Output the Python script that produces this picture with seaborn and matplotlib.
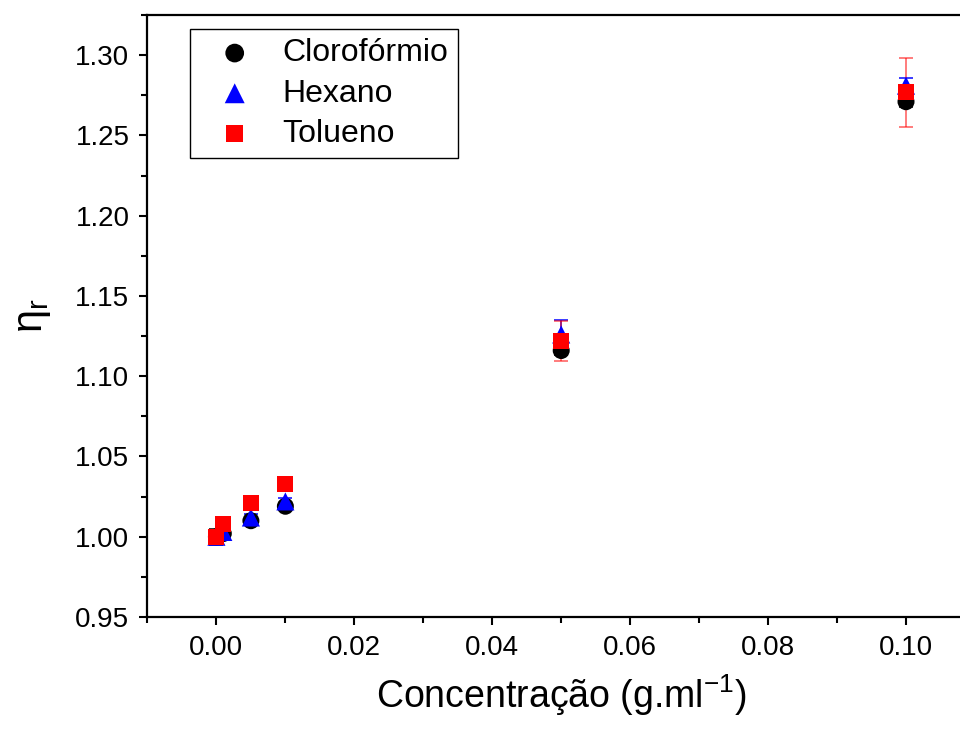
import numpy as np
import pandas as pd
import matplotlib
matplotlib.use("Agg")
import matplotlib.pyplot as plt
from matplotlib.ticker import MultipleLocator, FormatStrFormatter
import seaborn as sns

# Données
conc = [0.0, 0.001, 0.005, 0.01, 0.05, 0.10]
cloroformio = [1.000, 1.002, 1.010, 1.019, 1.116, 1.271]
hexano = [1.000, 1.003, 1.012, 1.022, 1.126, 1.281]
tolueno = [1.000, 1.008, 1.021, 1.033, 1.122, 1.277]
err_cloroformio = [0.005, 0.002, 0.002, 0.002, 0.003, 0.003]
err_hexano = [0.003, 0.002, 0.002, 0.002, 0.009, 0.005]
err_tolueno = [0.002, 0.001, 0.001, 0.001, 0.0125, 0.0215]

series = ["Clorofórmio", "Hexano", "Tolueno"]
values = [cloroformio, hexano, tolueno]
errors = [err_cloroformio, err_hexano, err_tolueno]

df = pd.concat([
    pd.DataFrame({"conc": conc, "eta": v, "err": e, "solvente": s})
    for s, v, e in zip(series, values, errors)
], ignore_index=True)

sns.set_style("ticks", {"axes.edgecolor": "black", "text.color": "black",
                        "xtick.color": "black", "ytick.color": "black",
                        "axes.labelcolor": "black"})
plt.rcParams['font.family'] = ['Liberation Sans', 'DejaVu Sans']

colors = {"Clorofórmio": "black", "Hexano": "blue", "Tolueno": "red"}
markers = {"Clorofórmio": "o", "Hexano": "^", "Tolueno": "s"}
sizes = {"Clorofórmio": 150, "Hexano": 170, "Tolueno": 130}

fig = plt.figure(figsize=(9.6, 7.29), dpi=100)
ax = fig.add_axes([0.1536, 0.1536, 0.862, 0.8258])

# barres d'erreur puis marqueurs, série par série
for s in series:
    d = df[df["solvente"] == s]
    ax.errorbar(d["conc"], d["eta"], yerr=d["err"], fmt="none",
                ecolor=colors[s], elinewidth=1.2, capsize=5, capthick=1.2,
                alpha=0.6 if s == "Tolueno" else 0.9, zorder=2)
    sns.scatterplot(data=d, x="conc", y="eta", ax=ax, color=colors[s],
                    marker=markers[s], s=sizes[s], edgecolor="none",
                    label=s, zorder=3)

ax.set_xlim(-0.01, 0.11)
ax.set_ylim(0.95, 1.325)
ax.xaxis.set_major_locator(MultipleLocator(0.02))
ax.xaxis.set_minor_locator(MultipleLocator(0.01))
ax.yaxis.set_major_locator(MultipleLocator(0.05))
ax.yaxis.set_minor_locator(MultipleLocator(0.025))
ax.xaxis.set_major_formatter(FormatStrFormatter('%.2f'))
ax.yaxis.set_major_formatter(FormatStrFormatter('%.2f'))

for sp in ax.spines.values():
    sp.set_linewidth(1.6)
    sp.set_visible(True)

ax.tick_params(which="major", direction="out", length=6, width=1.5,
               labelsize=20, pad=7)
ax.tick_params(which="minor", direction="out", length=4, width=1.5)

ax.set_xlabel("Concentração (g.ml$^{\\mathregular{-1}}$)", fontsize=27, labelpad=8)
ax.set_ylabel("η$_{\\mathregular{r}}$", fontsize=30, labelpad=16)

leg = ax.legend(loc="upper left", bbox_to_anchor=(0.0514, 0.977),
                borderaxespad=0, fontsize=23, frameon=True, fancybox=False,
                edgecolor="black", framealpha=1, handletextpad=0.4,
                labelspacing=0.32, borderpad=0.3, handlelength=2.2,
                markerscale=1.1)
leg.get_frame().set_linewidth(1.0)

fig.savefig("out.png", dpi=100)
